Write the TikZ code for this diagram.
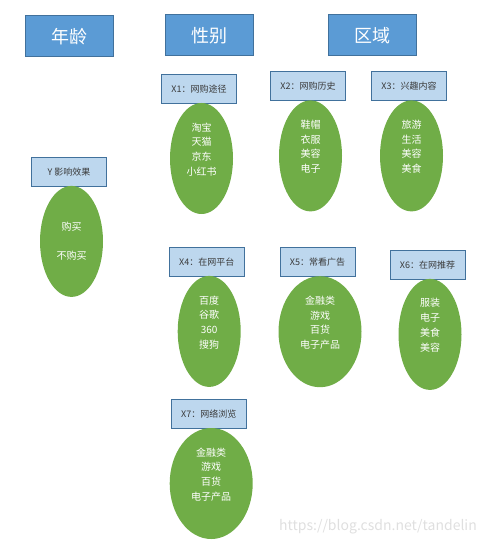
\documentclass[tikz,border=0pt]{standalone}
\usepackage{fontspec}
\setmainfont{Noto Sans CJK SC}
\usetikzlibrary{positioning,shapes.geometric}
\definecolor{hdblue}{HTML}{5B9BD5}
\definecolor{tagblue}{HTML}{BDD7EE}
\definecolor{edgeblue}{HTML}{41719C}
\definecolor{leafgreen}{HTML}{70AD47}
\definecolor{tagtext}{HTML}{3A3A3A}

\begin{document}
\begin{tikzpicture}[
  x=1pt, y=-1pt,
  head/.style={draw=edgeblue, fill=hdblue, line width=1pt, minimum width=88pt, minimum height=41pt, text=white, font=\fontsize{18}{20}\selectfont},
  tag/.style={draw=edgeblue, fill=tagblue, line width=1pt, minimum width=75pt, minimum height=29pt, inner sep=1pt, text=tagtext, font=\fontsize{9}{11}\selectfont},
  blob/.style={ellipse, fill=leafgreen, minimum width=63pt, minimum height=111pt, inner sep=0pt, xshift=2.5pt, text=white, align=center, font=\fontsize{10}{14.7}\selectfont},
  wide/.style={blob, minimum width=83pt},
  wm/.style={text=gray!25, font=\fontsize{14}{16}\selectfont}
]
\path[use as bounding box] (0,0) rectangle (487,545);

% headers
\node[head] (age)    at (69,36.5)  {年龄};
\node[head] (gender) at (209,35.5) {性别};
\node[head] (region) at (372,35.5) {区域};

% outcome
\node[tag] (y) at (69,171.7) {Y 影响效果};
\node[blob, below=-1pt of y] (ylist) {购买\\\strut\\不购买};

% features, first row
\node[tag] (x1) at (199,88.8) {X1：网购途径};
\node[tag] (x2) at (308,86.2) {X2：网购历史};
\node[tag] (x3) at (409,86.2) {X3：兴趣内容};
\node[blob, below=-1pt of x1] (x1list) {淘宝\\天猫\\京东\\小红书\\\strut};
\node[blob, below=-1pt of x2] (x2list) {鞋帽\\衣服\\美容\\电子\\\strut};
\node[blob, below=-1pt of x3] (x3list) {旅游\\生活\\美容\\美食\\\strut};

% features, second row
\node[tag] (x4) at (206.7,261.7) {X4：在网平台};
\node[tag] (x5) at (317.5,262)   {X5：常看广告};
\node[tag] (x6) at (427.5,264.7) {X6：在网推荐};
\node[blob, below=-1pt of x4] (x4list) {百度\\谷歌\\360\\搜狗\\\strut};
\node[wide, below=-1pt of x5] (x5list) {金融类\\游戏\\百货\\电子产品\\\strut};
\node[blob, below=-1pt of x6] (x6list) {服装\\电子\\美食\\美容\\\strut};

% features, third row
\node[tag] (x7) at (208.7,413.8) {X7：网络浏览};
\node[wide, below=-1pt of x7] (x7list) {金融类\\游戏\\百货\\电子产品\\\strut};

\node[wm] (wmark) at (378,527) {https://blog.csdn.net/tandelin};
\end{tikzpicture}
\end{document}
